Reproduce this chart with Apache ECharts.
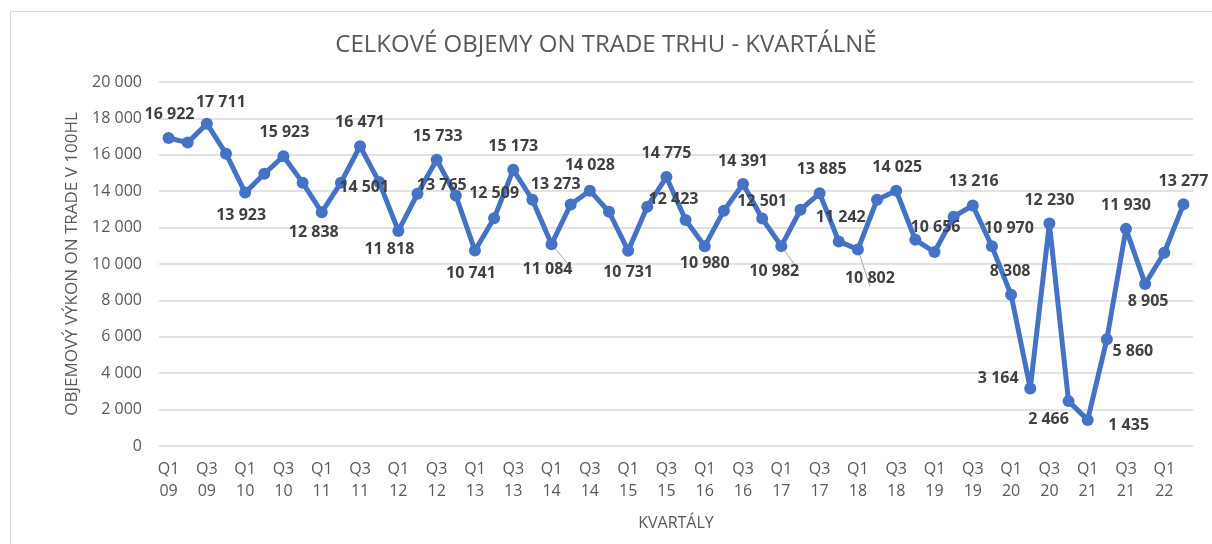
<!DOCTYPE html>
<html>
<head>
  <meta charset="UTF-8">
  <title>Celkové objemy on trade trhu</title>
  <script src="https://cdn.jsdelivr.net/npm/echarts@6/dist/echarts.min.js"></script>
  <style>
    html, body { margin: 0; padding: 0; background: #fff; }
    #main { width: 1212px; height: 544px; }
  </style>
</head>
<body>
<div id="main"></div>
<script>
  // roky a kvartály
  var years = ['09', '10', '11', '12', '13', '14', '15', '16', '17', '18', '19', '20', '21', '22'];
  var quarters = ['Q1', 'Q2', 'Q3', 'Q4'];

  // objemy v 100 hl, Q1 09 .. Q2 22
  var volumes = [
    16922, 16670, 17711, 16060,
    13923, 14960, 15923, 14470,
    12838, 14470, 16471, 14501,
    11818, 13860, 15733, 13765,
    10741, 12509, 15173, 13530,
    11084, 13273, 14028, 12870,
    10731, 13150, 14775, 12423,
    10980, 12930, 14391, 12501,
    10982, 12980, 13885, 11242,
    10802, 13530, 14025, 11330,
    10656, 12600, 13216, 10970,
    8308, 3164, 12230, 2466,
    1435, 5860, 11930, 8905,
    10620, 13277
  ];

  var categories = [];
  years.forEach(function (y) {
    quarters.forEach(function (q) {
      if (categories.length < volumes.length) categories.push(q + '\n' + y);
    });
  });

  // kde stoji popisky (posun od bodu), jen u popsanych bodu
  var labelOffsets = {
    0: [1, -24], 2: [14, -21], 4: [-4, 23], 6: [1, -24], 8: [-8, 20],
    10: [0, -24], 11: [-15, 5], 12: [-9, 19], 14: [1, -23], 15: [-14, -10],
    16: [-4, 23], 17: [0, -25], 18: [0, -23], 20: [-4, 25], 21: [-15, -20],
    22: [0, -25], 24: [0, 22], 26: [0, -24], 27: [-12, -20], 28: [0, 17],
    30: [0, -23], 31: [0, -17], 32: [-7, 25], 34: [2, -24], 35: [2, -24],
    36: [12, 29], 38: [1, -23], 40: [1, -25], 42: [1, -24], 43: [17, -18],
    44: [-1, -23], 45: [-32, -10], 46: [0, -23], 47: [-20, 18], 48: [41, 6],
    49: [26, 12], 50: [0, -23], 51: [3, 18], 53: [0, -23]
  };
  var withLeader = [20, 32, 36];

  function fmt(v) {
    return String(v).replace(/\B(?=(\d{3})+(?!\d))/g, ' ');
  }

  var seriesData = volumes.map(function (v, i) {
    var item = { value: v };
    if (labelOffsets[i]) {
      item.label = { show: true, offset: labelOffsets[i] };
      if (withLeader.indexOf(i) >= 0) {
        item.labelLine = { show: true, lineStyle: { color: '#a6a6a6', width: 1 } };
      }
    }
    return item;
  });

  var option = {
    backgroundColor: '#fff',
    animation: false,
    graphic: [{
      type: 'rect',
      shape: { x: 10.5, y: 11.5, width: 1230, height: 560 },
      style: { fill: 'none', stroke: '#d9d9d9', lineWidth: 1 },
      silent: true
    }],
    title: {
      text: 'CELKOVÉ OBJEMY ON TRADE TRHU - KVARTÁLNĚ',
      left: 'center',
      top: 28,
      textStyle: {
        color: '#595959',
        fontSize: 24,
        fontWeight: 'normal',
        fontFamily: 'Open Sans'
      }
    },
    grid: { left: 159, right: 19, top: 82, bottom: 98 },
    xAxis: {
      type: 'category',
      data: categories,
      name: 'KVARTÁLY',
      nameLocation: 'middle',
      nameGap: 69,
      nameTextStyle: { color: '#595959', fontSize: 16, fontFamily: 'Open Sans' },
      axisLine: { show: false },
      axisTick: { show: false },
      axisLabel: {
        interval: 1,
        color: '#595959',
        fontSize: 16,
        lineHeight: 22,
        margin: 12,
        fontFamily: 'Open Sans'
      }
    },
    yAxis: {
      type: 'value',
      min: 0,
      max: 20000,
      interval: 2000,
      name: 'OBJEMOVÝ VÝKON ON TRADE V 100HL',
      nameLocation: 'middle',
      nameGap: 78,
      nameTextStyle: { color: '#595959', fontSize: 17, fontFamily: 'Open Sans' },
      axisLine: { show: false },
      axisTick: { show: false },
      axisLabel: {
        color: '#595959',
        fontSize: 16,
        margin: 17,
        fontFamily: 'Open Sans',
        formatter: fmt
      },
      splitLine: { lineStyle: { color: '#d9d9d9', width: 1.5 } }
    },
    series: [{
      type: 'line',
      data: seriesData,
      symbol: 'circle',
      symbolSize: 12,
      lineStyle: { color: '#4472C4', width: 5 },
      itemStyle: { color: '#4472C4' },
      label: {
        show: false,
        position: 'inside',
        color: '#404040',
        fontSize: 16,
        fontWeight: 'bold',
        fontFamily: 'Open Sans',
        formatter: function (p) { return fmt(p.value); }
      }
    }]
  };

  echarts.init(document.getElementById('main')).setOption(option);
</script>
</body>
</html>
